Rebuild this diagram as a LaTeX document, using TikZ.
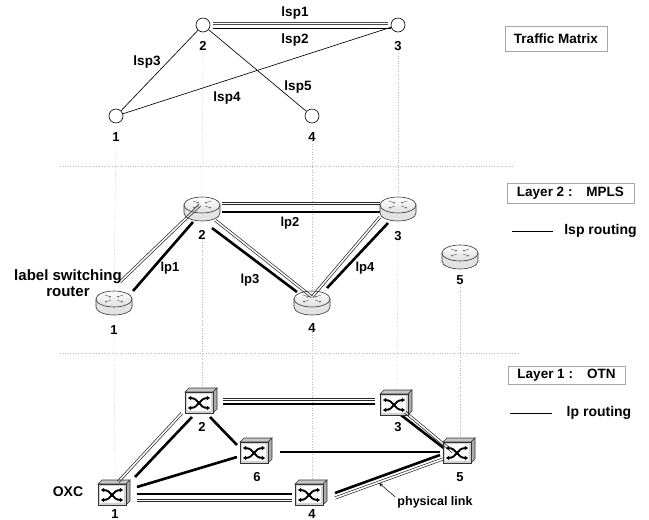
\documentclass[tikz,border=0pt]{standalone}
\usepackage{fontspec}
\setmainfont{Liberation Sans}
\usetikzlibrary{arrows.meta,calc}
\newcommand\lfs[1]{\fontsize{#1}{#1}\selectfont\bfseries}
\newcommand\physline[3][]{%
  \draw[physthin,#1] ($(#2)!1.2pt!90:(#3)$) -- ($(#3)!1.2pt!-90:(#2)$);
  \draw[physthin,#1] ($(#2)!1.2pt!-90:(#3)$) -- ($(#3)!1.2pt!90:(#2)$);
}
\tikzset{
  pics/router/.style={code={
    \path[draw=black!80, line width=0.6pt, fill=gray!22] (-18,-3) -- (-18,5) arc[start angle=180, end angle=0, x radius=18, y radius=8] -- (18,-3) -- cycle;
    \path[draw=black!80, line width=0.6pt, top color=white, bottom color=gray!25] (0,-3) ellipse[x radius=18, y radius=8];
    \draw[black!65, line width=0.45pt, -{Stealth[length=1.6pt,width=1.8pt]}] (-9,-7) -- (-3,-5);
    \draw[black!65, line width=0.45pt, -{Stealth[length=1.6pt,width=1.8pt]}] (9,-7) -- (3,-5);
    \draw[black!65, line width=0.45pt, -{Stealth[length=1.6pt,width=1.8pt]}] (-3,-2) -- (-9,0);
    \draw[black!65, line width=0.45pt, -{Stealth[length=1.6pt,width=1.8pt]}] (3,-2) -- (9,0);
  }},
  pics/oxc/.style={code={
    \path[draw=black!80, line width=0.6pt, fill=gray!45] (-17,-8) -- (-13,-12) -- (15,-12) -- (11,-8) -- cycle;
    \path[draw=black!80, line width=0.6pt, fill=gray!65] (11,-8) -- (15,-12) -- (15,9) -- (11,13) -- cycle;
    \path[draw=black!80, line width=0.6pt, fill=gray!35] (-17,-8) rectangle (11,13);
    \path[fill=white] (-15,-6) rectangle (9,11);
    \draw[line width=1.9pt, {Stealth[length=3.4pt,width=4.6pt]}-{Stealth[length=3.4pt,width=4.6pt]}] (-14,-2) .. controls (-2,-2) and (-4,8) .. (8,8);
    \draw[line width=1.9pt, {Stealth[length=3.4pt,width=4.6pt]}-{Stealth[length=3.4pt,width=4.6pt]}] (-14,8) .. controls (-2,8) and (-4,-2) .. (8,-2);
  }},
  txt/.style={inner sep=0pt, font=\lfs{13}},
  tm/.style={circle, draw, line width=0.6pt, minimum size=14pt, inner sep=0pt, fill=white},
  rtrnode/.style={minimum width=36pt, minimum height=24pt, inner sep=0pt},
  oxcnode/.style={minimum width=32pt, minimum height=25pt, inner sep=0pt},
  guide/.style={draw=gray!55, dotted, line width=0.6pt},
  lspline/.style={line width=0.65pt},
  physthin/.style={draw=black!85, line width=0.55pt},
  lpline/.style={line width=2.6pt},
  legbox/.style={draw=gray!70, line width=0.7pt, inner sep=0pt, font=\lfs{13.5}},
}
\begin{document}
\begin{tikzpicture}[x=1pt,y=-1pt]
\useasboundingbox (0,0) rectangle (649,520);

% ---------- nodes (positions) ----------
\node[tm] (t1) at (116,116) {};
\node[tm] (t2) at (203,25) {};
\node[tm] (t3) at (398,25) {};
\node[tm] (t4) at (312,116) {};
\node[txt] (t1n) at (116,137) {1};
\node[txt] (t2n) at (203,46) {2};
\node[txt] (t3n) at (398,46) {3};
\node[txt] (t4n) at (312,137) {4};

\node[rtrnode] (r1) at (114,302) {};
\node[rtrnode] (r2) at (202,208) {};
\node[rtrnode] (r3) at (398,208) {};
\node[rtrnode] (r4) at (312,302) {};
\node[rtrnode] (r5) at (460,256) {};
\node[txt] (r1n) at (114,330) {1};
\node[txt] (r2n) at (202,235) {2};
\node[txt] (r3n) at (398,236) {3};
\node[txt] (r4n) at (312,328) {4};
\node[txt] (r5n) at (460,280) {5};

\node[oxcnode] (o1) at (115,492) {};
\node[oxcnode] (o2) at (202,400) {};
\node[oxcnode] (o3) at (397,402) {};
\node[oxcnode] (o4) at (312,492) {};
\node[oxcnode] (o5) at (460,450) {};
\node[oxcnode] (o6) at (257,450) {};
\node[txt] (o1n) at (115,514) {1};
\node[txt] (o2n) at (202,427) {2};
\node[txt] (o3n) at (398,427) {3};
\node[txt] (o4n) at (312,514) {4};
\node[txt] (o5n) at (460,477) {5};
\node[txt] (o6n) at (257,477) {6};

% ---------- separators and guides ----------
\coordinate (s1a) at (60,166);
\coordinate (s1b) at (513,166);
\coordinate (s2a) at (60,353);
\coordinate (s2b) at (518,353);
\draw[guide] (s1a) -- (s1b);
\draw[guide] (s2a) -- (s2b);
\draw[guide] ([yshift=3pt]t1n.south) -- (r1.north);
\draw[guide] ([yshift=3pt]t2n.south) -- (r2.north);
\draw[guide] ([yshift=3pt]t3n.south) -- (r3.north);
\draw[guide] ([yshift=3pt]t4n.south) -- (r4.north);
\draw[guide] ([yshift=3pt]r1n.south) -- (o1.north);
\draw[guide] ([yshift=3pt]r2n.south) -- (o2.north);
\draw[guide] ([yshift=3pt]r3n.south) -- (o3.north);
\draw[guide] ([yshift=3pt]r4n.south) -- (o4.north);
\draw[guide] ([yshift=3pt]r5n.south) -- (o5.north);

% ---------- traffic matrix ----------
\draw[physthin, draw=black!70, line width=0.5pt] ([shift={(10,-3)}]t2.center) -- ([shift={(-10,-3)}]t3.center);
\draw[physthin, draw=black!70, line width=0.5pt] ([shift={(10,-0.8)}]t2.center) -- ([shift={(-10,-0.8)}]t3.center);
\draw[lspline] ([shift={(10,3.5)}]t2.center) -- ([shift={(-7,3.5)}]t3.center);
\draw[lspline] (t2) -- (t1);
\draw[lspline] (t2) -- (t4);
\draw[lspline] (t1) -- (t3);
\node[txt, font=\lfs{13.5}] (lsp1) at (295,13) {lsp1};
\node[txt, font=\lfs{13.5}] (lsp2) at (295,40) {lsp2};
\node[txt, font=\lfs{13.5}] (lsp3) at (147,62) {lsp3};
\node[txt, font=\lfs{13.5}] (lsp4) at (227,98) {lsp4};
\node[txt, font=\lfs{13.5}] (lsp5) at (298,87) {lsp5};

% ---------- layer 2: thick lp lines ----------
\draw[lpline] ([shift={(19,-11)}]r1.center) -- ([shift={(-9,14)}]r2.center);
\draw[lpline] ([shift={(20,4)}]r2.center) -- ([shift={(-16,4)}]r3.center);
\draw[lpline] ([shift={(10,20)}]r2.center) -- ([shift={(-15,-10)}]r4.center);
\draw[lpline] ([shift={(15,-14)}]r4.center) -- ([shift={(-10,15)}]r3.center);

% ---------- layer 1: thick lp lines ----------
\draw[lpline] ([shift={(20,-15)}]o1.center) -- ([shift={(-10,17)}]o2.center);
\draw[lpline] ([shift={(21,4)}]o2.center) -- ([shift={(-22,2)}]o3.center);
\draw[lpline] ([shift={(8,17)}]o2.center) -- ([shift={(-20,-5)}]o6.center);
\draw[lpline] ([shift={(22,-5)}]o1.center) -- ([shift={(-20,7)}]o6.center);
\draw[lpline] ([shift={(23,2)}]o6.center) -- ([shift={(-20,2)}]o5.center);
\draw[lpline] ([shift={(22,2)}]o1.center) -- ([shift={(-20,2)}]o4.center);
\draw[lpline] ([shift={(23,1)}]o4.center) -- ([shift={(-20,5)}]o5.center);
\draw[lpline] ([shift={(4,13)}]o3.center) -- ([shift={(-15,-1)}]o5.center);

% ---------- icons ----------
\foreach \n in {r1,r2,r3,r4,r5} { \pic at (\n.center) {router}; }
\foreach \n in {o1,o2,o3,o4,o5,o6} { \pic at (\n.center) {oxc}; }

% ---------- end points of thin double lines ----------
\coordinate (a12) at ([shift={(6,-20)}]r1.center);
\coordinate (b12) at ([shift={(-2,-3)}]r2.center);
\coordinate (a23) at ([shift={(20,-5)}]r2.center);
\coordinate (b23) at ([shift={(-18,-5)}]r3.center);
\coordinate (a24) at ([shift={(13,12)}]r2.center);
\coordinate (b24) at ([shift={(0,-5)}]r4.center);
\coordinate (a43) at ([shift={(0,-5)}]r4.center);
\coordinate (b43) at ([shift={(-18,9)}]r3.center);
\coordinate (c12) at ([shift={(3,-10)}]o1.center);
\coordinate (d12) at ([shift={(-20,13)}]o2.center);
\coordinate (c23) at ([shift={(21,-1)}]o2.center);
\coordinate (d23) at ([shift={(-22,-3)}]o3.center);
\coordinate (c14) at ([shift={(22,8)}]o1.center);
\coordinate (d14) at ([shift={(-20,8)}]o4.center);
\coordinate (c45) at ([shift={(23,6)}]o4.center);
\coordinate (d45) at ([shift={(-17,9)}]o5.center);
\coordinate (c35) at ([shift={(8,10)}]o3.center);
\coordinate (d35) at ([shift={(-7,2)}]o5.center);

% ---------- layer 2: thin lsp lines ----------
\physline{a12}{b12}
\physline{a23}{b23}
\physline{a24}{b24}
\physline{a43}{b43}

% ---------- layer 1: physical links ----------
\physline{c12}{d12}
\physline{c23}{d23}
\physline{c14}{d14}
\physline{c45}{d45}
\physline{c35}{d35}

% ---------- labels ----------
\node[txt] (lp1) at (170,268) {lp1};
\node[txt] (lp2) at (290,223) {lp2};
\node[txt] (lp3) at (250,280) {lp3};
\node[txt] (lp4) at (365,268) {lp4};
\node[txt, font=\lfs{15}, align=center] (lsr) at (68,283) {label switching\\[1pt]router};
\node[txt, font=\lfs{14}] (oxclbl) at (68,492) {OXC};
\node[txt, font=\lfs{12.5}] (pl) at (435,502) {physical link};
\coordinate (plt) at (379,483);
\draw[line width=0.5pt, -{Stealth[length=4pt,width=3pt]}] ([shift={(-2,-5)}]pl.west) -- (plt);

% ---------- legend ----------
\node[legbox, minimum width=102pt, minimum height=25pt] (tmbox) at (556,38.5) {Traffic Matrix};
\node[legbox, minimum width=127pt, minimum height=20pt] (l2box) at (570.5,193) {Layer 2 :\hspace{14pt}MPLS};
\node[legbox, minimum width=117pt, minimum height=18pt] (l1box) at (566.5,375) {Layer 1 :\hspace{14pt}OTN};
\coordinate (lg1a) at (512,231);
\coordinate (lg1b) at (553,231);
\draw[line width=0.7pt] (lg1a) -- (lg1b);
\node[txt, font=\lfs{14}] (lsprt) at (600.5,231) {lsp routing};
\coordinate (lg2a) at (510,413);
\coordinate (lg2b) at (552,413);
\draw[line width=0.7pt] (lg2a) -- (lg2b);
\node[txt, font=\lfs{14}] (lprt) at (599,413) {lp routing};
\end{tikzpicture}
\end{document}
